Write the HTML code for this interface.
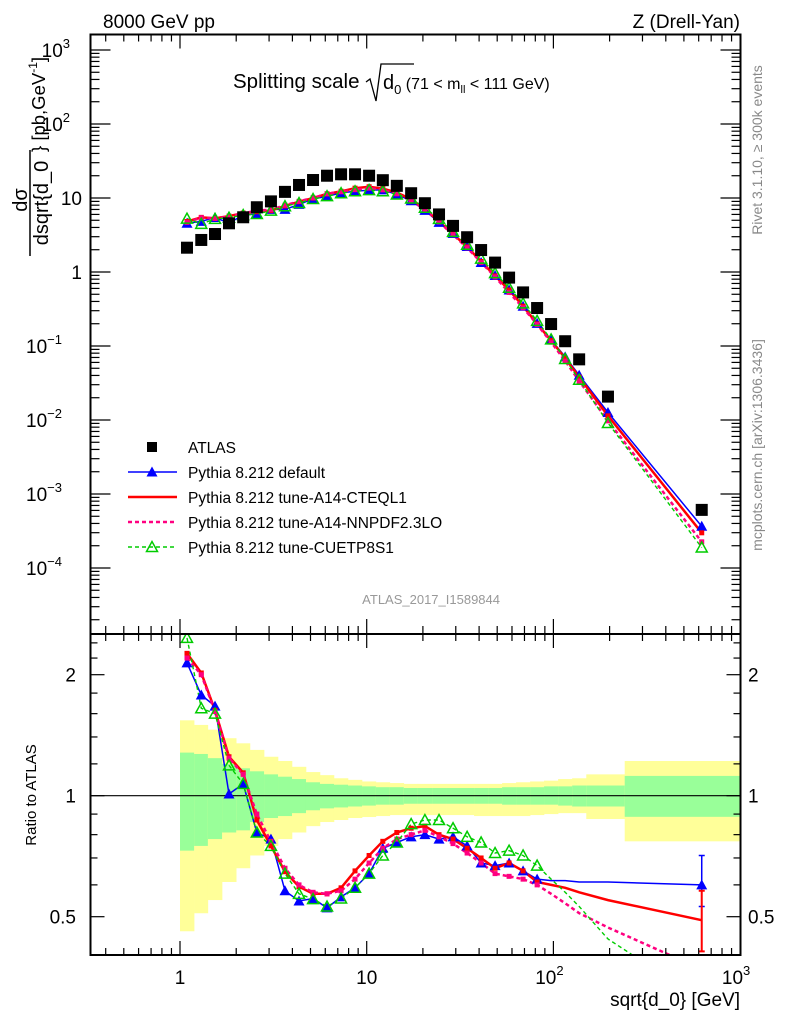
<!DOCTYPE html>
<html><head><meta charset="utf-8"><style>
html,body{margin:0;padding:0;background:#fff;}
svg{display:block;font-family:"Liberation Sans",sans-serif;}
</style></head><body>
<svg id="chart" width="786" height="1024" viewBox="0 0 786 1024" xmlns="http://www.w3.org/2000/svg">
<defs>
<clipPath id="cm"><rect x="90.5" y="34.5" width="650" height="599"/></clipPath>
<clipPath id="cr"><rect x="90.5" y="634" width="650" height="321"/></clipPath>
</defs>
<g id="bands" clip-path="url(#cr)"></g>
<line x1="90.5" y1="795.7" x2="740.5" y2="795.7" stroke="#000" stroke-width="1.2"/>
<g id="mainMarks" clip-path="url(#cm)"></g>
<g id="ratioMarks" clip-path="url(#cr)"></g>
<g id="axes"></g>
<rect x="90.5" y="34.5" width="650" height="599.5" fill="none" stroke="#000" stroke-width="2"/>
<rect x="90.5" y="634" width="650" height="321" fill="none" stroke="#000" stroke-width="2"/>
<text x="103" y="28" font-size="19">8000 GeV pp</text>
<text x="740" y="28" font-size="19" text-anchor="end">Z (Drell-Yan)</text>
<g>
<text x="233" y="88" font-size="20.5">Splitting scale</text>
<path d="M366 82 L370 79 L376 101 L381 64 L414 64" fill="none" stroke="#000" stroke-width="1.3"/>
<text x="383" y="89" font-size="20">d<tspan font-size="13" dy="5">0</tspan><tspan dy="-5" font-size="16"> (71 &lt; m</tspan><tspan font-size="11" dy="4">ll</tspan><tspan dy="-4" font-size="16"> &lt; 111 GeV)</tspan></text>
</g>
<g transform="translate(28,160) rotate(-90)">
<text x="-40" y="-1" font-size="20" text-anchor="middle">dσ</text>
<line x1="-96" y1="2" x2="10" y2="2" stroke="#000" stroke-width="1.5"/>
<text x="-43" y="20" font-size="20" text-anchor="middle">dsqrt{d_0</text>
<text x="8" y="17" font-size="18.5">} [pb,GeV<tspan font-size="12" dy="-8">-1</tspan><tspan dy="8">]</tspan></text>
</g>
<text transform="translate(36,795) rotate(-90)" font-size="15" text-anchor="middle">Ratio to ATLAS</text>
<text x="740" y="1006" font-size="19" text-anchor="end">sqrt{d_0} [GeV]</text>
<text transform="translate(762,150) rotate(-90)" font-size="14" fill="#888" text-anchor="middle">Rivet 3.1.10, ≥ 300k events</text>
<text transform="translate(762,445) rotate(-90)" font-size="14" fill="#888" text-anchor="middle">mcplots.cern.ch [arXiv:1306.3436]</text>
<text x="500" y="604" font-size="13" fill="#999" text-anchor="end">ATLAS_2017_I1589844</text>
<g id="legend"></g>
</svg>
<script>
const xVals=[1.09,1.30,1.54,1.83,2.18,2.58,3.07,3.65,4.34,5.16,6.13,7.29,8.66,10.3,12.2,14.5,17.3,20.5,24.4,29.0,34.5,41.0,48.7,57.9,68.8,81.8,97.2,115.6,137.4,196,623];
const binEdges=[1.00,1.19,1.41,1.68,2.00,2.37,2.82,3.35,3.98,4.73,5.62,6.68,7.94,9.44,11.2,13.3,15.8,18.8,22.4,26.6,31.6,37.6,44.7,53.1,63.1,75.0,89.1,106,126,150,241,1600];
const atlas=[2.13,2.71,3.26,4.55,5.49,7.5,9.0,12.1,15.0,17.5,20.0,20.9,20.9,20.0,17.4,14.6,11.6,8.5,6.0,4.2,2.95,1.98,1.34,0.84,0.53,0.326,0.198,0.116,0.066,0.0207,0.00061];
const rDefault=[2.14,1.78,1.67,1.01,1.07,0.81,0.78,0.58,0.547,0.555,0.526,0.56,0.59,0.64,0.74,0.765,0.79,0.80,0.78,0.79,0.75,0.68,0.67,0.68,0.65,0.62,0.615,0.615,0.61,0.61,0.60];
const rCTEQ=[2.26,2.02,1.63,1.25,1.14,0.87,0.75,0.647,0.594,0.57,0.57,0.59,0.65,0.71,0.77,0.81,0.83,0.84,0.80,0.78,0.74,0.70,0.66,0.68,0.65,0.61,0.60,0.59,0.575,0.55,0.49];
const rNNPDF=[2.2,2.0,1.62,1.24,1.13,0.9,0.77,0.66,0.60,0.575,0.57,0.58,0.62,0.68,0.74,0.78,0.80,0.82,0.79,0.76,0.72,0.68,0.64,0.63,0.62,0.60,0.57,0.54,0.51,0.47,0.37];
const rCUETP=[2.47,1.65,1.60,1.19,1.07,0.81,0.75,0.64,0.57,0.553,0.53,0.555,0.59,0.64,0.71,0.765,0.85,0.87,0.87,0.83,0.79,0.765,0.72,0.73,0.71,0.67,0.62,0.575,0.53,0.44,0.31];
const yelHi=[1.54,1.50,1.46,1.39,1.35,1.30,1.25,1.22,1.18,1.145,1.125,1.105,1.095,1.085,1.08,1.075,1.07,1.07,1.07,1.07,1.07,1.07,1.07,1.075,1.08,1.085,1.09,1.10,1.105,1.13,1.22];
const yelLo=[0.46,0.51,0.55,0.61,0.66,0.71,0.75,0.78,0.81,0.84,0.86,0.87,0.88,0.885,0.89,0.895,0.895,0.895,0.895,0.895,0.895,0.89,0.89,0.89,0.89,0.895,0.90,0.905,0.905,0.875,0.77];
const grnHi=[1.28,1.27,1.24,1.20,1.17,1.15,1.13,1.115,1.10,1.08,1.07,1.065,1.06,1.055,1.05,1.05,1.045,1.045,1.045,1.045,1.045,1.045,1.045,1.05,1.05,1.05,1.055,1.055,1.06,1.06,1.12];
const grnLo=[0.73,0.75,0.78,0.81,0.82,0.86,0.88,0.89,0.905,0.92,0.93,0.935,0.94,0.945,0.95,0.95,0.955,0.955,0.955,0.955,0.955,0.955,0.955,0.95,0.95,0.95,0.95,0.945,0.94,0.94,0.886];
const yTickExps=["3","2","","","−1","−2","−3","−4"];
const xTickLabels=["1","10","10","10"];
const xTickExps=["","","2","3"];
const ratioTicks=[2,1,0.5];

const NS="http://www.w3.org/2000/svg";
function X(v){return 180+186.7*Math.log10(v);}
function Y(v){return 272-74*Math.log10(v);}
function R(v){return 795.7-121*Math.log2(v);}
function mk(tag,attrs,parent){const e=document.createElementNS(NS,tag);for(const k in attrs)e.setAttribute(k,attrs[k]);parent.appendChild(e);return e;}
const bands=document.getElementById('bands');
for(let i=0;i<yelHi.length;i++){
 const x0=X(binEdges[i]),x1=X(binEdges[i+1]);
 const y=mk('rect',{x:x0,y:R(yelHi[i]),width:x1-x0+0.3,height:R(yelLo[i])-R(yelHi[i]),fill:'#ffff99'},bands);
 
 
 const g=mk('rect',{x:x0,y:R(grnHi[i]),width:x1-x0+0.3,height:R(grnLo[i])-R(grnHi[i]),fill:'#99ff99'},bands);
 
 
}
const series=[
 {name:'default',r:rDefault,color:'#0000ff',w:1.5,dash:'',marker:'tri'},
 {name:'cteql1',r:rCTEQ,color:'#ff0000',w:2.5,dash:'',marker:'sq'},
 {name:'nnpdf',r:rNNPDF,color:'#ff0080',w:2.5,dash:'4,3',marker:'sq'},
 {name:'cuetp8s1',r:rCUETP,color:'#00cc00',w:1.4,dash:'4,3',marker:'otri'}];
const mainG=document.getElementById('mainMarks'),ratG=document.getElementById('ratioMarks');
function marker(type,cx,cy,color,parent){
 let e;
 if(type==='tri'){e=mk('path',{d:`M${cx-5.5} ${cy+4.5}L${cx+5.5} ${cy+4.5}L${cx} ${cy-5.5}Z`,fill:color},parent);}
 else if(type==='otri'){e=mk('path',{d:`M${cx-5.5} ${cy+4.5}L${cx+5.5} ${cy+4.5}L${cx} ${cy-5.5}Z`,fill:'none',stroke:color,'stroke-width':1.5},parent);}
 else {e=mk('rect',{x:cx-2.5,y:cy-2.5,width:5,height:5,fill:color},parent);}
 return e;
}
series.forEach(s=>{
 let dm='',dr='';
 s.r.forEach((r,i)=>{const x=X(xVals[i]);dm+=(i?'L':'M')+x.toFixed(1)+' '+Y(atlas[i]*r).toFixed(1);dr+=(i?'L':'M')+x.toFixed(1)+' '+R(r).toFixed(1);});
 const lm=mk('path',{d:dm,fill:'none',stroke:s.color,'stroke-width':s.w,'stroke-dasharray':s.dash},mainG);
 
 
 const lr=mk('path',{d:dr,fill:'none',stroke:s.color,'stroke-width':s.w,'stroke-dasharray':s.dash},ratG);
 
 
});
series.forEach(s=>{
 s.r.forEach((r,i)=>{
  const m=marker(s.marker,X(xVals[i]),Y(atlas[i]*r),s.color,mainG);
  
  
  if(i<=25||(i===30&&s.name==='default')){
   const q=marker(s.marker,X(xVals[i]),R(r),s.color,ratG);
   
   
  }
 });
});
atlas.forEach((v,i)=>{
 const s=mk('rect',{x:X(xVals[i])-6,y:Y(v)-6,width:12,height:12,fill:'#000'},mainG);
 
 
});
const eb1=mk('path',{d:`M${X(623)} ${R(0.71)}V${R(0.53)}M${X(623)-3} ${R(0.71)}h6M${X(623)-3} ${R(0.53)}h6`,stroke:'#0000ff','stroke-width':1.5},ratG);


const eb2=mk('path',{d:`M${X(623)} ${R(0.58)}V${R(0.41)}M${X(623)-3} ${R(0.58)}h6M${X(623)-3} ${R(0.41)}h6`,stroke:'#ff0000','stroke-width':2},ratG);


const ax=document.getElementById('axes');
function tick(x1,y1,x2,y2){mk('line',{x1,y1,x2,y2,stroke:'#000','stroke-width':1.2},ax);}
for(let d=-1;d<3;d++)for(let m=1;m<10;m++){
 const v=m*Math.pow(10,d);const x=X(v);if(x<91||x>740)continue;
 const L=m===1?14:7;
 tick(x,34.5,x,34.5+L);tick(x,633,x,633-L);tick(x,634,x,634+L);tick(x,955,x,955-L);
}
for(let d=-5;d<4;d++)for(let m=1;m<10;m++){
 const y=Y(m*Math.pow(10,d));if(y<35||y>633)continue;
 const L=m===1?20:9;
 tick(90.5,y,90.5+L,y);tick(740.5,y,740.5-L,y);
}
[0.4,0.5,0.6,0.7,0.8,0.9,1,1.2,1.4,1.6,1.8,2,2.2,2.4].forEach(v=>{
 const y=R(v);if(y<635||y>954)return;
 const L=(v===0.5||v===1||v===2)?14:7;
 tick(90.5,y,90.5+L,y);tick(740.5,y,740.5-L,y);
});
const yl=mk('g',{},ax);


for(let e=3;e>=-4;e--){
 const idx=3-e;const y=Y(Math.pow(10,e))+7;
 const noExp=(e===0||e===1);
 const t=mk('text',{x:noExp?82:(e<0?62:70),y:y,'font-size':19,'text-anchor':'end'},yl);
 t.textContent=e===0?'1':'10';
 if(!noExp){const s=mk('tspan',{'font-size':13,dy:-9},t);s.textContent=yTickExps[idx];}
}
const rl=mk('g',{},ax);


ratioTicks.forEach(v=>{
 const a=mk('text',{x:76,y:R(v)+7,'font-size':19,'text-anchor':'end'},rl);a.textContent=String(v);
 const b=mk('text',{x:748,y:R(v)+7,'font-size':19},rl);b.textContent=String(v);
});
const xl=mk('g',{},ax);


xTickLabels.forEach((l,i)=>{
 const x=X(Math.pow(10,i));
 const t=mk('text',{x:x+(xTickExps[i]?-4:0),y:984,'font-size':19,'text-anchor':'middle'},xl);t.textContent=l;
 if(xTickExps[i]){const s=mk('tspan',{'font-size':13,dy:-9},t);s.textContent=xTickExps[i];}
});
const lg=document.getElementById('legend');
const entries=[['ATLAS','atlas','#000'],['Pythia 8.212 default','default','#0000ff'],['Pythia 8.212 tune-A14-CTEQL1','cteql1','#ff0000'],['Pythia 8.212 tune-A14-NNPDF2.3LO','nnpdf','#ff0080'],['Pythia 8.212 tune-CUETP8S1','cuetp8s1','#00cc00']];
entries.forEach((e,i)=>{
 const y=447+25*i;
 const g=mk('g',{},lg);
 
 
 if(i===0){mk('rect',{x:147,y:y-5,width:10,height:10,fill:'#000'},g);}
 else{
  const s=series[i-1];
  mk('line',{x1:128,y1:y,x2:177,y2:y,stroke:s.color,'stroke-width':s.w===2.5?2.5:1.4,'stroke-dasharray':s.dash},g);
  if(s.marker==='tri'||s.marker==='otri')marker(s.marker,152,y,s.color,g);
 }
 const t=mk('text',{x:188,y:y+6,'font-size':15.5},g);t.textContent=e[0];
});
</script>
</body></html>
